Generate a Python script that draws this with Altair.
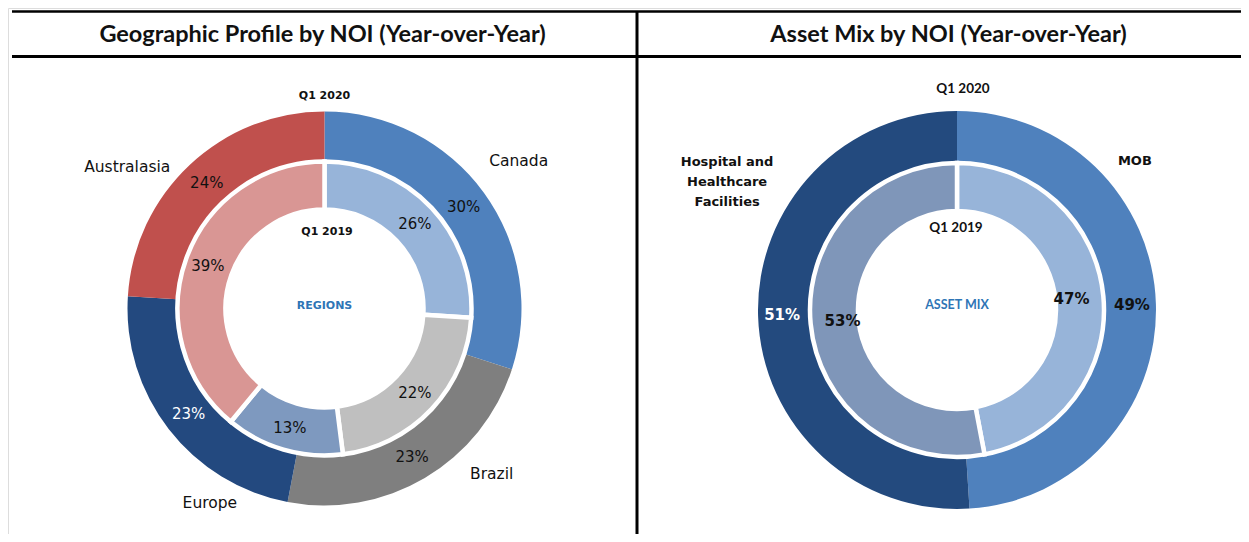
import altair as alt
import pandas as pd

# ---------------- data ----------------
geo_categories = ["Canada", "Brazil", "Europe", "Australasia"]
geo_q1_2020 = [30, 23, 23, 24]
geo_q1_2019 = [26, 22, 13, 39]

asset_categories = ["MOB", "Hospital and Healthcare Facilities"]
asset_q1_2020 = [49, 51]
asset_q1_2019 = [47, 53]

ring_labels = ["Q1 2020", "Q1 2019"]
panel_titles = ["Geographic Profile by NOI (Year-over-Year)", "Asset Mix by NOI (Year-over-Year)"]
center_labels = ["REGIONS", "ASSET MIX"]

# ---------------- styles ----------------
seg_colors = {
    ("geo", "outer"): ["#4F81BD", "#7F7F7F", "#23497F", "#C0504D"],
    ("geo", "inner"): ["#97B4D9", "#BFBFBF", "#7E99BF", "#D99694"],
    ("asset", "outer"): ["#4F81BD", "#234A7E"],
    ("asset", "inner"): ["#97B4D9", "#7F96B9"],
}
pct_text_colors = {
    ("geo", "outer"): ["#111111", "#111111", "#FFFFFF", "#111111"],
    ("geo", "inner"): ["#111111", "#111111", "#111111", "#111111"],
    ("asset", "outer"): ["#111111", "#FFFFFF"],
    ("asset", "inner"): ["#111111", "#111111"],
}
display_names = {"Hospital and Healthcare Facilities": "Hospital and\nHealthcare\nFacilities"}

TITLE_FONT = "Lato"
LABEL_FONT = "DejaVu Sans"
OFF = 8  # page margin
W, H = 1249 - 2 * OFF, 542 - 2 * OFF


def panel_df(key, cats, outer, inner):
    rows = []
    for ring, vals in (("outer", outer), ("inner", inner)):
        for i, (c, v) in enumerate(zip(cats, vals)):
            rows.append({
                "ring": ring, "category": c, "value": v, "idx": i,
                "color": seg_colors[(key, ring)][i],
                "tcolor": pct_text_colors[(key, ring)][i],
                "disp": display_names.get(c, c),
            })
    return pd.DataFrame(rows)


theta_scale = alt.Scale(domain=[0, 100])


def donut(df, cx, cy, r_out, r_mid, r_in_out, r_in_in, pct_r_out, pct_r_in,
          pct_size, pct_weight, cat_layout, cat_size, cat_weight):
    base = (
        alt.Chart(df)
        .transform_joinaggregate(total="sum(value)", groupby=["ring"])
        .transform_calculate(pct="datum.value / datum.total * 100")
        .transform_stack(stack="pct", groupby=["ring"], as_=["start", "end"],
                         sort=[alt.SortField("idx", order="ascending")])
        .transform_calculate(mid="(datum.start + datum.end) / 2",
                             label="datum.value + '%'")
    )
    pos = dict(x=alt.value(cx), y=alt.value(cy))
    layers = []
    layers.append(
        base.transform_filter("datum.ring == 'outer'")
        .mark_arc(outerRadius=r_out, innerRadius=r_mid)
        .encode(theta=alt.Theta("start:Q", scale=theta_scale), theta2="end:Q",
                color=alt.Color("color:N", scale=None), **pos)
    )
    layers.append(
        base.transform_filter("datum.ring == 'inner'")
        .mark_arc(outerRadius=r_in_out, innerRadius=r_in_in, stroke="white", strokeWidth=4.5)
        .encode(theta=alt.Theta("start:Q", scale=theta_scale), theta2="end:Q",
                color=alt.Color("color:N", scale=None), **pos)
    )
    for ring, rr in (("outer", pct_r_out), ("inner", pct_r_in)):
        layers.append(
            base.transform_filter(f"datum.ring == '{ring}'")
            .mark_text(radius=rr, font=LABEL_FONT, fontSize=pct_size, fontWeight=pct_weight,
                       baseline="middle")
            .encode(theta=alt.Theta("mid:Q", scale=theta_scale), text="label:N",
                    color=alt.Color("tcolor:N", scale=None), **pos)
        )
    for cat, (rr, dx, dy) in cat_layout.items():
        layers.append(
            base.transform_filter(f"datum.ring == 'outer' && datum.category == '{cat}'")
            .mark_text(radius=rr, dx=dx, dy=dy, font=LABEL_FONT, fontSize=cat_size,
                       fontWeight=cat_weight, baseline="middle", lineBreak="\n",
                       lineHeight=20, color="#111111")
            .encode(theta=alt.Theta("mid:Q", scale=theta_scale), text="disp:N", **pos)
        )
    return layers


one = pd.DataFrame({"k": [0]})


def label(text, x, y, size=12, weight="bold", color="#111111", font=LABEL_FONT):
    return alt.Chart(one).mark_text(
        text=text, font=font, fontSize=size, fontWeight=weight, color=color, baseline="middle"
    ).encode(x=alt.value(x), y=alt.value(y))


def rule(x, x2, y, y2, w):
    enc = dict(x=alt.value(x), y=alt.value(y))
    if x2 is not None:
        enc["x2"] = alt.value(x2)
    if y2 is not None:
        enc["y2"] = alt.value(y2)
    return alt.Chart(one).mark_rule(color="#000000", strokeWidth=w).encode(**enc)


# centers (chart coords)
lcx, lcy = 324.5 - OFF, 308.5 - OFF
rcx, rcy = 957 - OFF, 310 - OFF

geo_df = panel_df("geo", geo_categories, geo_q1_2020, geo_q1_2019)
asset_df = panel_df("asset", asset_categories, asset_q1_2020, asset_q1_2019)

geo_layers = donut(
    geo_df, lcx, lcy, 197, 148, 147, 99, 172, 124, 15, "normal",
    {"Canada": (240, 0, -6), "Brazil": (240, 45, -41),
     "Europe": (240, 75, 47), "Australasia": (240, -33, 33)},
    15.5, "normal",
)
asset_layers = donut(
    asset_df, rcx, rcy, 199, 148, 147, 99, 175, 115, 15, "bold",
    {"MOB": (240, -62, -141),
     "Hospital and Healthcare Facilities": (240, 10, -156)},
    13, "bold",
)

annotations = [
    rule(12 - OFF, W + 5, 11.5 - OFF, None, 2.5),
    rule(12 - OFF, W + 5, 56.5 - OFF, None, 3),
    rule(637 - OFF, None, 11 - OFF, H + 5, 3),
    label(panel_titles[0], 322.5 - OFF, 35 - OFF, size=23.5, font=TITLE_FONT),
    label(panel_titles[1], 948.5 - OFF, 35 - OFF, size=23.5, font=TITLE_FONT),
    label(ring_labels[0], lcx, lcy - 213, size=11),
    label(ring_labels[1], lcx + 2.5, lcy - 76.5, size=11),
    label(center_labels[0], lcx, lcy - 2.5, size=11, color="#2E75B6"),
    label(ring_labels[0], rcx + 6, rcy - 221, size=13.5, font=TITLE_FONT),
    label(ring_labels[1], rcx - 1, rcy - 82, size=13.5, font=TITLE_FONT),
    label(center_labels[1], rcx, rcy - 5, size=12.5, color="#2E75B6", font=TITLE_FONT),
]

chart = (
    alt.layer(*geo_layers, *asset_layers, *annotations)
    .properties(width=W, height=H, padding=0, autosize=alt.AutoSizeParams(type="none"))
    .configure_view(stroke=None)
    .configure(background="white")
)

chart.save("out.html", embed_options={"renderer": "svg", "actions": False})
